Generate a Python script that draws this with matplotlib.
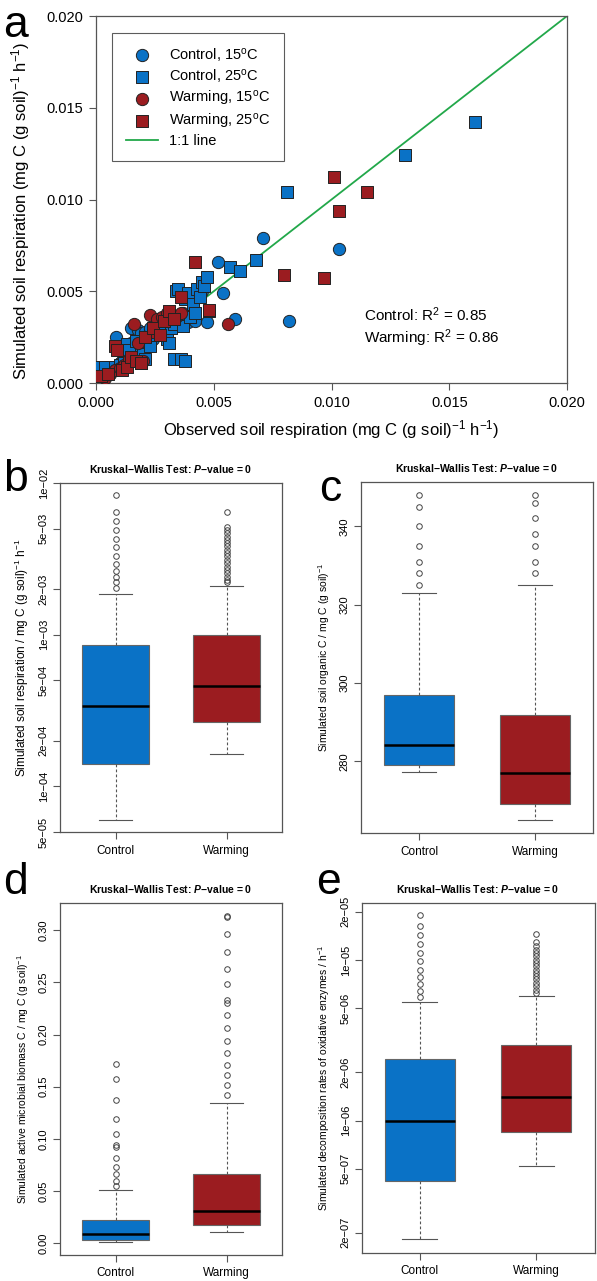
import matplotlib
matplotlib.use("Agg")
import matplotlib.pyplot as plt
from matplotlib.ticker import FixedLocator, FixedFormatter, NullLocator

plt.rcParams['font.family'] = ['Liberation Sans', 'DejaVu Sans']
plt.rcParams['mathtext.fontset'] = 'custom'
plt.rcParams['mathtext.rm'] = 'Liberation Sans'
plt.rcParams['mathtext.it'] = 'Liberation Sans:italic:bold'
plt.rcParams['mathtext.bf'] = 'Liberation Sans:bold'

BLUE = "#0a72c6"
RED = "#9b1c20"
SPINE = "#555555"

# ---- panel a: observed vs simulated respiration ----
ctl15_x = [0.0003, 0.0006, 0.0008, 0.00085, 0.0010, 0.0011, 0.0012, 0.0013, 0.0014, 0.0015,
           0.0015, 0.0016, 0.0017, 0.0018, 0.0019, 0.0020, 0.0021, 0.0022, 0.0023, 0.0024,
           0.0025, 0.0026, 0.0027, 0.0028, 0.0030, 0.0031, 0.0033, 0.0035, 0.0037, 0.0039,
           0.0042, 0.0045, 0.0047, 0.0052, 0.0054, 0.0059, 0.0071, 0.0082, 0.0103]
ctl15_y = [0.0006, 0.0008, 0.0009, 0.00253, 0.0011, 0.0012, 0.0014, 0.0016, 0.0020, 0.0022,
           0.0030, 0.0018, 0.0024, 0.0029, 0.0027, 0.0023, 0.0028, 0.0026, 0.0030, 0.0024,
           0.0029, 0.0027, 0.0031, 0.0033, 0.0032, 0.0034, 0.0033, 0.0036, 0.0038, 0.0033,
           0.0034, 0.0050, 0.0033, 0.0066, 0.0049, 0.0035, 0.0079, 0.0034, 0.0073]

ctl25_x = [0.0002, 0.0004, 0.0008, 0.0010, 0.0012, 0.0013, 0.0014, 0.0017, 0.0019, 0.0020,
           0.0021, 0.0023, 0.0025, 0.0027, 0.0029, 0.0030, 0.0031, 0.0032, 0.0033, 0.0034,
           0.0035, 0.0036, 0.0037, 0.0038, 0.0039, 0.0040, 0.0041, 0.0042, 0.0043, 0.0044,
           0.0045, 0.0046, 0.0047, 0.0048, 0.0057, 0.0061, 0.0068, 0.0081, 0.0131, 0.0161,
           0.0033, 0.0036, 0.0038]
ctl25_y = [0.0009, 0.0009, 0.0009, 0.0010, 0.0011, 0.0021, 0.0018, 0.0023, 0.0011, 0.0016,
           0.0013, 0.0020, 0.0026, 0.0029, 0.0027, 0.0024, 0.0022, 0.0030, 0.0032, 0.0050,
           0.0051, 0.0035, 0.0031, 0.0046, 0.0049, 0.0036, 0.0043, 0.0038, 0.0051, 0.0047,
           0.0055, 0.0053, 0.0058, 0.0039, 0.0063, 0.0061, 0.0067, 0.0104, 0.0124, 0.0142,
           0.0013, 0.0013, 0.0012]

warm15_x = [0.0004, 0.0006, 0.0008, 0.0010, 0.0012, 0.0014, 0.0016, 0.0018, 0.0020, 0.0023,
            0.0024, 0.0026, 0.0028, 0.0030, 0.0032, 0.0034, 0.0036, 0.0056]
warm15_y = [0.0003, 0.0005, 0.0007, 0.0008, 0.0010, 0.0013, 0.0032, 0.0022, 0.0012, 0.0037,
            0.0028, 0.0035, 0.0036, 0.0038, 0.0037, 0.0036, 0.0038, 0.0032]

warm25_x = [0.0002, 0.0005, 0.0008, 0.0009, 0.0011, 0.0013, 0.0015, 0.0017, 0.0019, 0.0021,
            0.0024, 0.0027, 0.0029, 0.0031, 0.0033, 0.0036, 0.0042, 0.0048, 0.0080, 0.0097,
            0.0101, 0.0103, 0.0115]
warm25_y = [0.0004, 0.0005, 0.0020, 0.0018, 0.0007, 0.0009, 0.0014, 0.0012, 0.0011, 0.0025,
            0.0030, 0.0026, 0.0034, 0.0039, 0.0035, 0.0047, 0.0066, 0.0040, 0.0059, 0.0057,
            0.0112, 0.0094, 0.0104]

r2_text = ["Control: R$^2$ = 0.85", "Warming: R$^2$ = 0.86"]
a_ticks = [0.000, 0.005, 0.010, 0.015, 0.020]

# ---- panels b-e: box statistics (Control, Warming) ----
groups = ["Control", "Warming"]

b_q1 = [1.41e-4, 2.66e-4]
b_med = [3.38e-4, 4.58e-4]
b_q3 = [8.55e-4, 1.00e-3]
b_lo = [6.0e-5, 1.63e-4]
b_hi = [1.86e-3, 2.11e-3]
b_fliers = [[8.3e-3, 6.43e-3, 5.58e-3, 4.92e-3, 4.29e-3, 3.76e-3, 3.31e-3, 2.93e-3,
             2.65e-3, 2.42e-3, 2.21e-3, 2.03e-3],
            [6.43e-3, 5.12e-3, 4.91e-3, 4.67e-3, 4.44e-3, 4.22e-3, 4.01e-3, 3.82e-3,
             3.63e-3, 3.45e-3, 3.28e-3, 3.11e-3, 2.96e-3, 2.81e-3, 2.68e-3, 2.54e-3,
             2.42e-3, 2.30e-3, 2.21e-3]]
b_ticks = [1e-2, 5e-3, 2e-3, 1e-3, 5e-4, 2e-4, 1e-4, 5e-5]
b_ticklabels = ["1e\u221202", "5e\u221203", "2e\u221203", "1e\u221203", "5e\u221204",
                "2e\u221204", "1e\u221204", "5e\u221205"]

c_q1 = [279.0, 269.0]
c_med = [284.1, 277.0]
c_q3 = [297.0, 291.9]
c_lo = [277.2, 265.1]
c_hi = [323.0, 325.1]
c_fliers = [[325.0, 328.0, 331.0, 335.0, 340.0, 345.0, 348.0],
            [328.0, 331.0, 335.0, 338.0, 342.0, 346.0, 348.0]]
c_ticks = [280, 300, 320, 340]

d_q1 = [0.0032, 0.0176]
d_med = [0.0086, 0.0307]
d_q3 = [0.0224, 0.0665]
d_lo = [0.0013, 0.0109]
d_hi = [0.0508, 0.134]
d_fliers = [[0.055, 0.060, 0.0665, 0.0729, 0.0815, 0.0927, 0.0943, 0.105, 0.119, 0.137,
             0.157, 0.172],
            [0.1417, 0.1513, 0.1612, 0.1711, 0.182, 0.194, 0.2066, 0.219, 0.230, 0.2328,
             0.248, 0.263, 0.279, 0.2966, 0.3124, 0.3134]]
d_ticks = [0.00, 0.05, 0.10, 0.15, 0.20, 0.25, 0.30]

e_q1 = [4.20e-7, 8.47e-7]
e_med = [1.00e-6, 1.41e-6]
e_q3 = [2.43e-6, 2.94e-6]
e_lo = [1.82e-7, 5.25e-7]
e_hi = [5.43e-6, 5.94e-6]
e_fliers = [[1.89e-5, 1.62e-5, 1.42e-5, 1.25e-5, 1.11e-5, 9.77e-6, 8.61e-6, 7.79e-6,
             7.03e-6, 6.41e-6, 5.88e-6],
            [1.45e-5, 1.29e-5, 1.22e-5, 1.16e-5, 1.11e-5, 1.05e-5, 1.005e-5, 9.57e-6,
             9.14e-6, 8.71e-6, 8.30e-6, 7.91e-6, 7.55e-6, 7.20e-6, 6.86e-6, 6.53e-6,
             6.24e-6]]
e_ticks = [2e-5, 1e-5, 5e-6, 2e-6, 1e-6, 5e-7, 2e-7]
e_ticklabels = ["2e\u221205", "1e\u221205", "5e\u221206", "2e\u221206", "1e\u221206",
                "5e\u221207", "2e\u221207"]

fig = plt.figure(figsize=(5.97, 12.81), dpi=100)


def style_spines(ax):
    for s in ax.spines.values():
        s.set_color(SPINE)
        s.set_linewidth(0.9)
    ax.tick_params(color=SPINE, direction='out')


# panel a
ax = fig.add_axes([0.1608, 0.701, 0.789, 0.2865])
ax.plot([0, 0.02], [0, 0.02], color="#22a84a", lw=1.3, label="1:1 line", zorder=1)
mk = dict(edgecolors="#222222", linewidths=0.7, zorder=3)
ax.scatter(ctl15_x, ctl15_y, s=78, marker='o', c=BLUE, label="Control, 15$^\\mathrm{o}$C", **mk)
ax.scatter(ctl25_x, ctl25_y, s=66, marker='s', c=BLUE, label="Control, 25$^\\mathrm{o}$C", **mk)
ax.scatter(warm15_x, warm15_y, s=78, marker='o', c=RED, label="Warming, 15$^\\mathrm{o}$C", **mk)
ax.scatter(warm25_x, warm25_y, s=66, marker='s', c=RED, label="Warming, 25$^\\mathrm{o}$C", **mk)
ax.set_xlim(0, 0.02)
ax.set_ylim(0, 0.02)
ax.set_xticks(a_ticks)
ax.set_yticks(a_ticks)
ax.set_xticklabels([f"{t:.3f}" for t in a_ticks], fontsize=10.5)
ax.set_yticklabels([f"{t:.3f}" for t in a_ticks], fontsize=10.5)
ax.tick_params(length=5, pad=4)
style_spines(ax)
ax.set_xlabel("Observed soil respiration (mg C (g soil)$^{-1}$ h$^{-1}$)", fontsize=12, labelpad=6)
ax.set_ylabel("Simulated soil respiration (mg C (g soil)$^{-1}$ h$^{-1}$)", fontsize=12)
ax.yaxis.set_label_coords(-0.135, 0.47)
handles, labels = ax.get_legend_handles_labels()
order = [1, 2, 3, 4, 0]
leg = ax.legend([handles[i] for i in order], [labels[i] for i in order],
                loc='upper left', bbox_to_anchor=(0.035, 0.955), fontsize=10.5,
                frameon=True, fancybox=False, edgecolor="#333333", borderpad=0.9,
                handlelength=2.2, labelspacing=0.25, borderaxespad=0)
leg.get_frame().set_linewidth(0.8)
ax.text(0.57, 0.17, r2_text[0], transform=ax.transAxes, fontsize=11)
ax.text(0.57, 0.11, r2_text[1], transform=ax.transAxes, fontsize=11)
fig.text(0.005, 0.996, "a", fontsize=32, va='top', ha='left')


def box_panel(rect, q1, med, q3, lo, hi, fliers, ylabel, letter, letter_xy, log=False,
              ylabel_size=7.5):
    ax = fig.add_axes(rect)
    stats = []
    for i in range(2):
        stats.append(dict(med=med[i], q1=q1[i], q3=q3[i], whislo=lo[i], whishi=hi[i],
                          fliers=fliers[i], label=groups[i]))
    bp = ax.bxp(stats, positions=[1, 2], widths=0.6, patch_artist=True,
                boxprops=dict(edgecolor="#666666", linewidth=0.8),
                medianprops=dict(color="black", linewidth=1.8),
                whiskerprops=dict(color="#555555", linestyle=(0, (2.5, 2)), linewidth=0.8),
                capprops=dict(color="#555555", linewidth=0.8),
                capwidths=0.3,
                flierprops=dict(marker='o', markerfacecolor='none', markeredgecolor="#444444",
                                markersize=4, markeredgewidth=0.7))
    for patch, col in zip(bp['boxes'], [BLUE, RED]):
        patch.set_facecolor(col)
    if log:
        ax.set_yscale('log')
    ax.set_xlim(0.5, 2.5)
    ax.set_xticks([1, 2])
    ax.set_xticklabels(groups, fontsize=8.5)
    ax.tick_params(axis='x', length=5, pad=4)
    ax.tick_params(axis='y', length=5, labelsize=8, labelrotation=90, pad=3)
    style_spines(ax)
    ax.set_ylabel(ylabel, fontsize=ylabel_size, labelpad=6)
    ax.set_title("Kruskal\u2212Wallis Test: $P$\u2212value = 0", fontsize=7.5,
                 fontweight='bold', pad=7)
    fig.text(letter_xy[0], letter_xy[1], letter, fontsize=32, va='center', ha='left')
    return ax


axb = box_panel([0.1005, 0.3505, 0.3719, 0.2724], b_q1, b_med, b_q3, b_lo, b_hi, b_fliers,
                "Simulated soil respiration / mg C (g soil)$^{-1}$ h$^{-1}$", "b",
                (0.005, 0.626), log=True, ylabel_size=8.5)
axb.set_ylim(5e-5, 1e-2)
axb.yaxis.set_major_locator(FixedLocator(b_ticks))
axb.yaxis.set_major_formatter(FixedFormatter(b_ticklabels))
axb.yaxis.set_minor_locator(NullLocator())
for lab in axb.get_yticklabels():
    lab.set_rotation(90)
    lab.set_va('center')

axc = box_panel([0.6047, 0.3497, 0.3886, 0.274], c_q1, c_med, c_q3, c_lo, c_hi, c_fliers,
                "Simulated soil organic C / mg C (g soil)$^{-1}$", "c", (0.535, 0.618))
axc.set_ylim(261.7, 351.3)
axc.set_yticks(c_ticks)
axc.set_yticklabels([str(t) for t in c_ticks], rotation=90, va='center')

axd = box_panel([0.1005, 0.0203, 0.3719, 0.2748], d_q1, d_med, d_q3, d_lo, d_hi, d_fliers,
                "Simulated active microbial biomass C / mg C (g soil)$^{-1}$", "d",
                (0.005, 0.311))
axd.set_ylim(-0.0112, 0.326)
axd.set_yticks(d_ticks)
axd.set_yticklabels([f"{t:.2f}" for t in d_ticks], rotation=90, va='center')

axe = box_panel([0.6059, 0.0219, 0.390, 0.2732], e_q1, e_med, e_q3, e_lo, e_hi, e_fliers,
                "Simulated decomposition rates of oxidative enzymes / h$^{-1}$", "e",
                (0.530, 0.311), log=True)
axe.set_ylim(1.50e-7, 2.26e-5)
axe.yaxis.set_major_locator(FixedLocator(e_ticks))
axe.yaxis.set_major_formatter(FixedFormatter(e_ticklabels))
axe.yaxis.set_minor_locator(NullLocator())
for lab in axe.get_yticklabels():
    lab.set_rotation(90)
    lab.set_va('center')

fig.savefig("out.png", dpi=100)
